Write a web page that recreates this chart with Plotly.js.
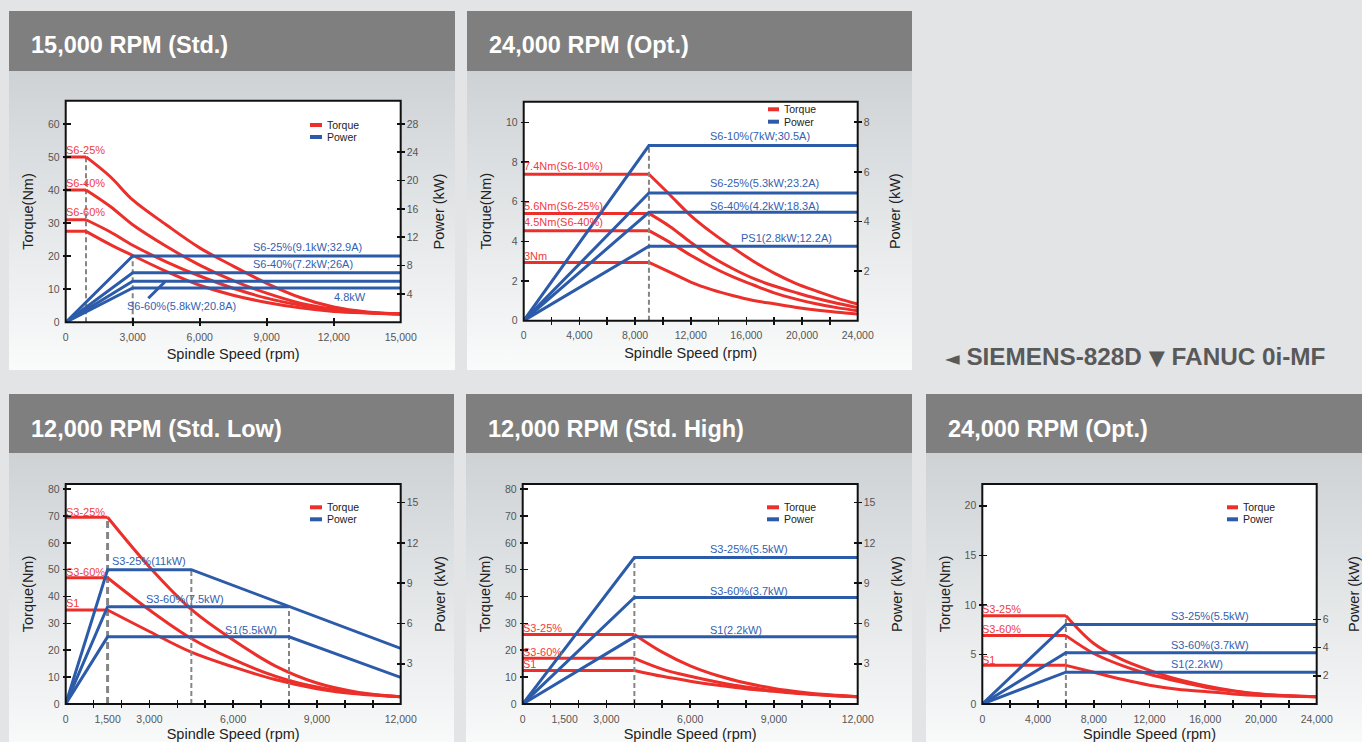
<!DOCTYPE html>
<html><head><meta charset="utf-8">
<script src="https://cdn.plot.ly/plotly-3.0.1.min.js"></script>
<style>
html,body{margin:0;padding:0;background:#e3e4e6;width:1362px;height:742px;overflow:hidden;}
.bgp{position:absolute;background:linear-gradient(#ced2d5,#fafbfb);}
#chart{position:absolute;left:0;top:0;width:1362px;height:742px;}
</style></head><body>
<div class="bgp" style="left:9px;top:71px;width:446px;height:299px"></div>
<div class="bgp" style="left:467px;top:71px;width:445px;height:299px"></div>
<div class="bgp" style="left:9px;top:453px;width:445px;height:300px"></div>
<div class="bgp" style="left:466px;top:453px;width:446px;height:300px"></div>
<div class="bgp" style="left:926px;top:453px;width:436px;height:300px"></div>
<div id="chart"></div>
<script>
// ================= DATA =================
// Panel 1 — 15,000 RPM (Std.)
const p1XLabels = [0, 3000, 6000, 9000, 12000, 15000];
const p1XMarks = [0, 3000, 6000, 9000, 12000, 15000];
const p1TorqueTicks = [0, 10, 20, 30, 40, 50, 60];
const p1PowerTicks = [4, 8, 12, 16, 20, 24, 28];
const p1TorqueRpm = [0, 910, 2000, 3000, 4500, 6000, 7500, 9000, 10500, 12000, 13500, 15000];
const p1TorqueS6_25 = [50, 50, 44, 37, 29.5, 22.5, 17, 11.8, 7.5, 4.6, 3.1, 2.5];
const p1TorqueS6_40 = [40, 40, 35, 29.5, 23, 17.3, 12.6, 8.8, 5.8, 4.0, 3.0, 2.5];
const p1TorqueS6_60 = [31, 31, 27.3, 23.3, 18.3, 14.0, 10.3, 7.3, 5.2, 3.7, 2.9, 2.5];
const p1TorqueS1 = [27.5, 27.5, 23.5, 20.2, 15.4, 11.2, 8.2, 6.0, 4.4, 3.3, 2.8, 2.5];
const p1PowerRpm = [0, 3000, 15000];
const p1PowerS6_25 = [0, 9.35, 9.35];
const p1PowerS6_40 = [0, 7.0, 7.0];
const p1PowerS6_60 = [0, 5.8, 5.8];
const p1PowerS1 = [0, 4.85, 4.85];
const p1Leader = {rpm: [3699, 4446], power: [3.39, 5.73]};

// Panel 2 — 24,000 RPM (Opt.) SIEMENS
const p2XLabels = [0, 4000, 8000, 12000, 16000, 20000, 24000];
const p2XMarks = [0, 2000, 4000, 6000, 8000, 10000, 12000, 14000, 16000, 18000, 20000, 22000, 24000];
const p2TorqueTicks = [0, 2, 4, 6, 8, 10];
const p2PowerTicks = [2, 4, 6, 8];
const p2TorqueRpm = [0, 9000, 10500, 12000, 13500, 15000, 16500, 18000, 19500, 21000, 22500, 24000];
const p2TorqueS6_10 = [7.38, 7.38, 6.35, 5.3, 4.45, 3.7, 3.0, 2.4, 1.9, 1.5, 1.14, 0.84];
const p2TorqueS6_25 = [5.41, 5.41, 4.75, 3.95, 3.22, 2.63, 2.13, 1.75, 1.43, 1.13, 0.88, 0.66];
const p2TorqueS6_40 = [4.54, 4.54, 3.95, 3.3, 2.72, 2.22, 1.8, 1.4, 1.1, 0.85, 0.66, 0.5];
const p2TorqueS1 = [2.94, 2.94, 2.45, 1.95, 1.57, 1.27, 1.02, 0.85, 0.68, 0.54, 0.43, 0.34];
const p2PowerRpm = [0, 9000, 24000];
const p2PowerS6_10 = [0, 7.06, 7.06];
const p2PowerS6_25 = [0, 5.15, 5.15];
const p2PowerS6_40 = [0, 4.37, 4.37];
const p2PowerPS1 = [0, 3.0, 3.0];

// Panel 3 — 12,000 RPM (Std. Low)
const p3XLabels = [0, 1500, 3000, 6000, 9000, 12000];
const p3XMarks = [0, 1000, 2000, 3000, 4000, 5000, 6000, 7000, 8000, 9000, 10000, 11000, 12000];
const p3TorqueTicks = [0, 10, 20, 30, 40, 50, 60, 70, 80];
const p3PowerTicks = [3, 6, 9, 12, 15];
const p3TorqueRpm = [0, 1500, 3000, 4500, 6000, 7500, 9000, 10500, 12000];
const p3TorqueS3_25 = [69.5, 69.5, 51, 35.2, 23.8, 14.2, 7.8, 4.3, 2.7];
const p3TorqueS3_60 = [47, 47, 35, 24.4, 16.6, 10.4, 6.3, 3.9, 2.7];
const p3TorqueS1 = [35, 35, 27, 19.3, 13.8, 9.1, 5.7, 3.7, 2.7];
const p3PowerS3_25Rpm = [0, 1500, 4500, 12000];
const p3PowerS3_25 = [0, 10, 10, 4.14];
const p3PowerS3_60Rpm = [0, 1500, 8000];
const p3PowerS3_60 = [0, 7.25, 7.25];
const p3PowerS1Rpm = [0, 1500, 8000, 12000];
const p3PowerS1 = [0, 5.0, 5.0, 1.98];

// Panel 4 — 12,000 RPM (Std. High)
const p4XLabels = p3XLabels, p4XMarks = p3XMarks;
const p4TorqueTicks = p3TorqueTicks, p4PowerTicks = p3PowerTicks;
const p4TorqueRpm = [0, 4000, 5000, 6000, 7000, 8000, 9000, 10000, 11000, 12000];
const p4TorqueS3_25 = [25.9, 25.9, 19.3, 14.2, 10.5, 7.8, 5.8, 4.4, 3.4, 2.7];
const p4TorqueS3_60 = [17, 17, 13.0, 10.3, 8.1, 6.3, 5.0, 4.0, 3.2, 2.7];
const p4TorqueS1 = [12.5, 12.5, 10.3, 8.5, 7.0, 5.7, 4.7, 3.8, 3.2, 2.7];
const p4PowerRpm = [0, 4000, 12000];
const p4PowerS3_25 = [0, 10.9, 10.9];
const p4PowerS3_60 = [0, 7.93, 7.93];
const p4PowerS1 = [0, 5.0, 5.0];

// Panel 5 — 24,000 RPM (Opt.) FANUC
const p5XLabels = [0, 4000, 8000, 12000, 16000, 20000, 24000];
const p5XMarks = p2XMarks;
const p5TorqueTicks = [0, 5, 10, 15, 20];
const p5PowerTicks = [2, 4, 6];
const p5TorqueRpm = [0, 6000, 8000, 10000, 12000, 14000, 16000, 18000, 20000, 22000, 24000];
const p5TorqueS3_25 = [8.9, 8.9, 6.1, 4.5, 3.4, 2.5, 1.85, 1.35, 1.0, 0.82, 0.74];
const p5TorqueS3_60 = [6.9, 6.9, 5.1, 3.9, 3.0, 2.3, 1.7, 1.3, 0.98, 0.82, 0.74];
const p5TorqueS1 = [3.9, 3.9, 3.2, 2.5, 1.9, 1.5, 1.25, 1.02, 0.86, 0.78, 0.74];
const p5PowerRpm = [0, 6000, 24000];
const p5PowerS3_25 = [0, 5.64, 5.64];
const p5PowerS3_60 = [0, 3.64, 3.64];
const p5PowerS1 = [0, 2.26, 2.26];

// ================= STYLE / LAYOUT =================
const W = 1362, H = 742;
const px = v => v / W;
const py = v => 1 - v / H;
const RED = '#ec2f2a', BLUE = '#2c5ba9', RED_TXT = '#f03c3c', BLUE_TXT = '#3461b0', DASH = '#858585';
const FONT = '"Liberation Sans", Arial, Helvetica, sans-serif';

const panels = [
  { title: '15,000 RPM (Std.)', head: [9, 455, 11, 71], titleY: 45, tStand: 10, pStand: 16,
    box: [65.7, 400.7, 100.7, 322.3], xRange: [0, 15000], tRange: [0, 67], pRange: [0, 31.27],
    xLabels: p1XLabels, xMarks: p1XMarks, tTicks: p1TorqueTicks, pTicks: p1PowerTicks,
    torque: [[p1TorqueRpm, p1TorqueS6_25], [p1TorqueRpm, p1TorqueS6_40], [p1TorqueRpm, p1TorqueS6_60], [p1TorqueRpm, p1TorqueS1]],
    power: [[p1PowerRpm, p1PowerS6_25], [p1PowerRpm, p1PowerS6_40], [p1PowerRpm, p1PowerS6_60], [p1PowerRpm, p1PowerS1]],
    dashes: [{axis: 't', rpm: p1TorqueRpm[1], top: p1TorqueS6_25[0], w: 2}, {axis: 'p', rpm: p1PowerRpm[1], top: p1PowerS6_25[1], w: 2}],
    leader: p1Leader,
    tLabels: [['S6-25%', 0, 52.1], ['S6-40%', 0, 42.1], ['S6-60%', 0, 33.4]],
    pLabels: [['S6-25%(9.1kW;32.9A)', 8386, 10.67], ['S6-40%(7.2kW;26A)', 8386, 8.23], ['S6-60%(5.8kW;20.8A)', 2745, 2.34], ['4.8kW', 12013, 3.61]],
    legend: [310, 322, 327, 125, 137] },
  { title: '24,000 RPM (Opt.)', head: [467, 912, 11, 71], titleY: 45, tStand: 10, pStand: 21,
    box: [523.7, 857.7, 101.7, 320.7], xRange: [0, 24000], tRange: [0, 11.04], pRange: [0, 8.83],
    xLabels: p2XLabels, xMarks: p2XMarks, tTicks: p2TorqueTicks, pTicks: p2PowerTicks,
    torque: [[p2TorqueRpm, p2TorqueS6_10], [p2TorqueRpm, p2TorqueS6_25], [p2TorqueRpm, p2TorqueS6_40], [p2TorqueRpm, p2TorqueS1]],
    power: [[p2PowerRpm, p2PowerS6_10], [p2PowerRpm, p2PowerS6_25], [p2PowerRpm, p2PowerS6_40], [p2PowerRpm, p2PowerPS1]],
    dashes: [{axis: 'p', rpm: p2PowerRpm[1], top: p2PowerS6_10[1], w: 2}],
    tLabels: [['7.4Nm(S6-10%)', 0, 7.81], ['5.6Nm(S6-25%)', 0, 5.80], ['4.5Nm(S6-40%)', 0, 4.96], ['3Nm', 0, 3.28]],
    pLabels: [['S6-10%(7kW;30.5A)', 13387, 7.46], ['S6-25%(5.3kW;23.2A)', 13387, 5.56], ['S6-40%(4.2kW;18.3A)', 13387, 4.64], ['PS1(2.8kW;12.2A)', 15614, 3.33]],
    legend: [768, 779, 784, 109.3, 121.7] },
  { title: '12,000 RPM (Std. Low)', head: [9, 454, 394, 453], titleY: 429, tStand: 10, pStand: 17,
    box: [65.7, 400.7, 484, 704], xRange: [0, 12000], tRange: [0, 81.9], pRange: [0, 16.38],
    xLabels: p3XLabels, xMarks: p3XMarks, tTicks: p3TorqueTicks, pTicks: p3PowerTicks,
    torque: [[p3TorqueRpm, p3TorqueS3_25], [p3TorqueRpm, p3TorqueS3_60], [p3TorqueRpm, p3TorqueS1]],
    power: [[p3PowerS3_25Rpm, p3PowerS3_25], [p3PowerS3_60Rpm, p3PowerS3_60], [p3PowerS1Rpm, p3PowerS1]],
    dashes: [{axis: 't', rpm: p3TorqueRpm[1], top: p3TorqueS3_25[0], w: 3}, {axis: 'p', rpm: p3PowerS3_25Rpm[2], top: p3PowerS3_25[2], w: 2}, {axis: 'p', rpm: p3PowerS1Rpm[2], top: 7.3, w: 2}],
    tLabels: [['S3-25%', 0, 71.6], ['S3-60%', 0, 49.3], ['S1', 0, 37.5]],
    pLabels: [['S3-25%(11kW)', 1648, 10.67], ['S3-60%(7.5kW)', 2866, 7.8], ['S1(5.5kW)', 5706, 5.51]],
    legend: [310, 322, 327, 507.3, 519.3] },
  { title: '12,000 RPM (Std. High)', head: [466, 912, 394, 453], titleY: 429, tStand: 10, pStand: 17,
    box: [522.7, 857.7, 484, 704], xRange: [0, 12000], tRange: [0, 81.9], pRange: [0, 16.38],
    xLabels: p4XLabels, xMarks: p4XMarks, tTicks: p4TorqueTicks, pTicks: p4PowerTicks,
    torque: [[p4TorqueRpm, p4TorqueS3_25], [p4TorqueRpm, p4TorqueS3_60], [p4TorqueRpm, p4TorqueS1]],
    power: [[p4PowerRpm, p4PowerS3_25], [p4PowerRpm, p4PowerS3_60], [p4PowerRpm, p4PowerS1]],
    dashes: [{axis: 'p', rpm: p4PowerRpm[1], top: p4PowerS3_25[1], w: 2}],
    tLabels: [['S3-25%', 0, 28.2], ['S3-60%', 0, 19.5], ['S1', 0, 14.9]],
    pLabels: [['S3-25%(5.5kW)', 6709, 11.54], ['S3-60%(3.7kW)', 6709, 8.44], ['S1(2.2kW)', 6709, 5.51]],
    legend: [767, 779, 784, 507.3, 519.3] },
  { title: '24,000 RPM (Opt.)', head: [926, 1362, 394, 453], titleY: 429, tStand: 10, pStand: 22,
    box: [982.3, 1316.7, 484, 704], xRange: [0, 24000], tRange: [0, 22.2], pRange: [0, 15.6],
    xLabels: p5XLabels, xMarks: p5XMarks, tTicks: p5TorqueTicks, pTicks: p5PowerTicks,
    torque: [[p5TorqueRpm, p5TorqueS3_25], [p5TorqueRpm, p5TorqueS3_60], [p5TorqueRpm, p5TorqueS1]],
    power: [[p5PowerRpm, p5PowerS3_25], [p5PowerRpm, p5PowerS3_60], [p5PowerRpm, p5PowerS1]],
    dashes: [{axis: 't', rpm: p5TorqueRpm[1], top: p5TorqueS3_25[0], w: 2}],
    tLabels: [['S3-25%', 0, 9.56], ['S3-60%', 0, 7.54], ['S1', 0, 4.44]],
    pLabels: [['S3-25%(5.5kW)', 13522, 6.26], ['S3-60%(3.7kW)', 13522, 4.18], ['S1(2.2kW)', 13522, 2.82]],
    legend: [1227, 1238, 1243.3, 507.3, 519.3] }
];

const sid = n => (n === 1 ? '' : String(n));
const traces = [];
const shapes = [];
const annotations = [];
const layout = {
  width: W, height: H, margin: {l: 0, r: 0, t: 0, b: 0},
  paper_bgcolor: 'rgba(0,0,0,0)', plot_bgcolor: '#ffffff',
  showlegend: false, font: {family: FONT}
};
const tickFont = {family: FONT, size: 10.5, color: '#555'};
const titleFont = {family: FONT, size: 14.5, color: '#222'};

panels.forEach((P, i) => {
  const k = i + 1;
  const xm = 'x' + sid(k), xt = 'x' + sid(k + 5);
  const yt = 'y' + sid(k), yp = 'y' + sid(k + 5), ytl = 'y' + sid(k + 10), ytr = 'y' + sid(k + 15);
  const [L, R, T, B] = P.box;
  const common = {showgrid: false, zeroline: false, fixedrange: true};

  layout['xaxis' + sid(k)] = Object.assign({}, common, {
    domain: [px(L), px(R)], anchor: yt, range: P.xRange, showline: false, ticks: '',
    tickmode: 'array', tickvals: P.xLabels, tickformat: ',d', tickfont: tickFont, ticklabelstandoff: 7,
    title: {text: 'Spindle Speed (rpm)', font: titleFont, standoff: 7}
  });
  layout['yaxis' + sid(k)] = Object.assign({}, common, {
    domain: [py(B), py(T)], anchor: xm, range: P.tRange, showline: false, ticks: '',
    tickmode: 'array', tickvals: P.tTicks, tickfont: tickFont, ticklabelstandoff: 5,
    title: {text: 'Torque(Nm)', font: titleFont, standoff: P.tStand}
  });
  layout['yaxis' + sid(k + 5)] = Object.assign({}, common, {
    overlaying: yt, anchor: xm, side: 'right', range: P.pRange, showline: false, ticks: '',
    tickmode: 'array', tickvals: P.pTicks, tickfont: tickFont, ticklabelstandoff: 5,
    title: {text: 'Power (kW)', font: titleFont, standoff: P.pStand}
  });
  // tick-mark axes (ticks crossing the frame)
  layout['xaxis' + sid(k + 5)] = Object.assign({}, common, {
    overlaying: xm, anchor: 'free', position: py(B + 4), range: P.xRange, showline: false,
    ticks: 'inside', ticklen: 8, tickwidth: 1.6, tickcolor: '#111', tickmode: 'array', tickvals: P.xMarks, showticklabels: false
  });
  layout['yaxis' + sid(k + 10)] = Object.assign({}, common, {
    overlaying: yt, anchor: 'free', side: 'left', position: px(L - 4), range: P.tRange, showline: false,
    ticks: 'inside', ticklen: 8, tickwidth: 1.6, tickcolor: '#111', tickmode: 'array', tickvals: P.tTicks, showticklabels: false
  });
  layout['yaxis' + sid(k + 15)] = Object.assign({}, common, {
    overlaying: yt, anchor: 'free', side: 'right', position: px(R + 4), range: P.pRange, showline: false,
    ticks: 'inside', ticklen: 8, tickwidth: 1.6, tickcolor: '#111', tickmode: 'array', tickvals: P.pTicks, showticklabels: false
  });
  // dummy traces so the tick axes are created
  traces.push({x: [null], y: [null], xaxis: xt, yaxis: yt, hoverinfo: 'skip', showlegend: false});
  traces.push({x: [null], y: [null], xaxis: xm, yaxis: ytl, hoverinfo: 'skip', showlegend: false});
  traces.push({x: [null], y: [null], xaxis: xm, yaxis: ytr, hoverinfo: 'skip', showlegend: false});

  // dashed guide lines
  P.dashes.forEach(d => {
    traces.push({x: [d.rpm, d.rpm], y: [0, d.top], xaxis: xm, yaxis: d.axis === 't' ? yt : yp, mode: 'lines',
      line: {color: DASH, width: d.w, dash: d.w > 2 ? '7px,4px' : '5px,3px'}, hoverinfo: 'skip'});
  });
  // torque curves: flat part + smooth decay
  P.torque.forEach(([xs, ys]) => {
    traces.push({x: xs.slice(0, 2), y: ys.slice(0, 2), xaxis: xm, yaxis: yt, mode: 'lines',
      line: {color: RED, width: 3}, name: 'Torque'});
    traces.push({x: xs.slice(1), y: ys.slice(1), xaxis: xm, yaxis: yt, mode: 'lines',
      line: {color: RED, width: 3, shape: 'spline', smoothing: 1}, name: 'Torque'});
  });
  // power curves
  P.power.forEach(([xs, ys]) => {
    traces.push({x: xs, y: ys, xaxis: xm, yaxis: yp, mode: 'lines', line: {color: BLUE, width: 3}, name: 'Power'});
  });
  if (P.leader) {
    traces.push({x: P.leader.rpm, y: P.leader.power, xaxis: xm, yaxis: yp, mode: 'lines', line: {color: BLUE, width: 3}, hoverinfo: 'skip'});
  }

  // frame
  shapes.push({type: 'rect', xref: xm + ' domain', yref: yt + ' domain', x0: 0, x1: 1, y0: 0, y1: 1,
    line: {color: '#111', width: 2}, fillcolor: 'rgba(0,0,0,0)', layer: 'above'});
  // header bar
  const [hx0, hx1, hy0, hy1] = P.head;
  shapes.push({type: 'rect', xref: 'paper', yref: 'paper', x0: px(hx0), x1: px(hx1), y0: py(hy1), y1: py(hy0),
    line: {width: 0}, fillcolor: '#7f7f7f', layer: 'below'});
  annotations.push({xref: 'paper', yref: 'paper', x: px(hx0 + 20), y: py(P.titleY), xanchor: 'left', yanchor: 'middle',
    text: '<b>' + P.title + '</b>', showarrow: false, font: {family: FONT, size: 23.5, color: '#ffffff'}});

  // series labels
  P.tLabels.forEach(([t, x, y]) => annotations.push({xref: xm, yref: yt, x: x, y: y, text: t, showarrow: false,
    xanchor: 'left', yanchor: 'middle', xshift: -2, font: {family: FONT, size: 11, color: RED_TXT}}));
  P.pLabels.forEach(([t, x, y]) => annotations.push({xref: xm, yref: yp, x: x, y: y, text: t, showarrow: false,
    xanchor: 'left', yanchor: 'middle', xshift: -2, font: {family: FONT, size: 11, color: BLUE_TXT}}));

  // legend (Torque / Power)
  const [lx0, lx1, tx, ly1, ly2] = P.legend;
  [[ly1, RED, 'Torque'], [ly2, BLUE, 'Power']].forEach(([ly, c, t]) => {
    shapes.push({type: 'line', xref: 'paper', yref: 'paper', x0: px(lx0), x1: px(lx1), y0: py(ly), y1: py(ly),
      line: {color: c, width: 4}});
    annotations.push({xref: 'paper', yref: 'paper', x: px(tx), y: py(ly), xanchor: 'left', yanchor: 'middle',
      text: t, showarrow: false, xshift: -2, font: {family: FONT, size: 10.5, color: '#222'}});
  });
});

annotations.push({xref: 'paper', yref: 'paper', x: px(943), y: py(356.7), xanchor: 'left', yanchor: 'middle', showarrow: false,
  text: '<b><span style="font-family:\'DejaVu Sans\';font-size:19px">◄</span> SIEMENS-828D <span style="font-family:\'DejaVu Sans\';font-size:21px">▼</span> FANUC 0i-MF</b>',
  font: {family: FONT, size: 24.3, color: '#595959'}});

layout.shapes = shapes;
layout.annotations = annotations;

Plotly.newPlot('chart', traces, layout, {displayModeBar: false, staticPlot: true});
</script>
</body></html>
